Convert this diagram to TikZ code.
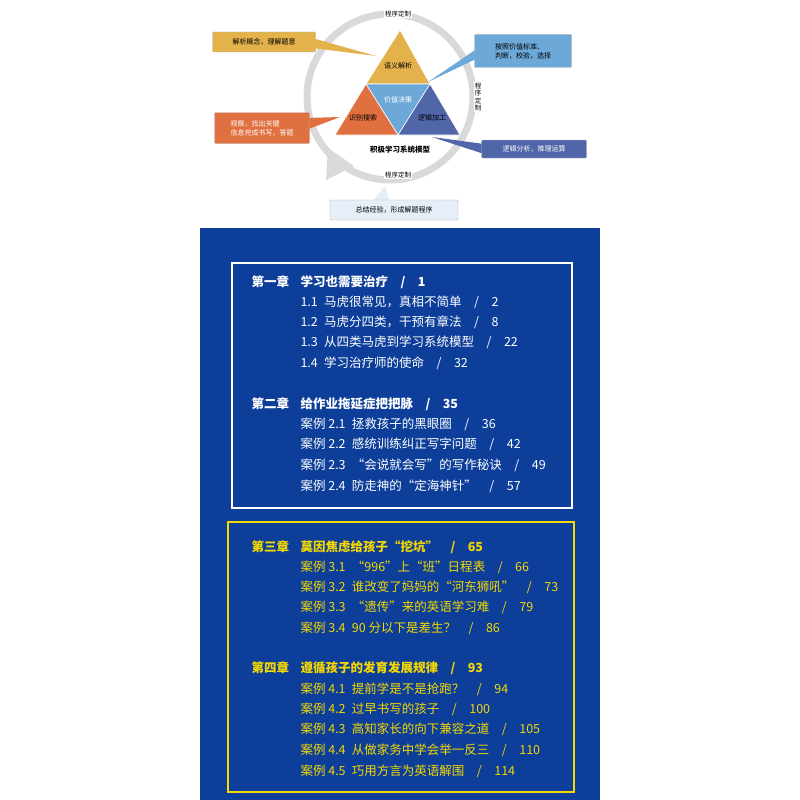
\documentclass[tikz,border=0pt]{standalone}
\usepackage{fontspec}
\setmainfont{Noto Sans CJK SC}
\usetikzlibrary{arrows.meta}
\definecolor{panel}{HTML}{0D3F9A}
\definecolor{gold}{HTML}{F5D800}
\definecolor{tyel}{HTML}{E3B24A}
\definecolor{tlblue}{HTML}{6DA9D8}
\definecolor{torange}{HTML}{E07040}
\definecolor{tdblue}{HTML}{5066A8}
\definecolor{tpale}{HTML}{E6EEF8}
\tikzset{
  callout/.style={draw=gray!60, rounded corners=1pt, font=\fontsize{7}{9}\selectfont, inner sep=3pt, align=left},
  tri/.style={draw=white, line width=0.6pt},
  tlab/.style={font=\fontsize{7}{8}\selectfont},
  ring/.style={font=\fontsize{6.5}{7.5}\selectfont, fill=white, inner sep=1pt, align=center},
  toc/.style={anchor=west, text=white, font=\fontsize{12.5}{15}\selectfont},
  tocb/.style={toc, font=\bfseries\fontsize{12.5}{15}\selectfont},
  tocy/.style={toc, text=gold},
  tocyb/.style={tocb, text=gold},
}
\begin{document}
\begin{tikzpicture}[x=1pt,y=-1pt]
\useasboundingbox (0,0) rectangle (800,800);
% circle
\draw[gray!30, line width=7pt] (390,97) circle (83);
\fill[gray!30] (328,148) -- (354,166) -- (326,180) -- cycle;
% triangles
\fill[tri, fill=tyel] (400,30) -- (366,84) -- (430,84) -- cycle;
\fill[tri, fill=tlblue] (366,84) -- (430,84) -- (398,135) -- cycle;
\fill[tri, fill=torange] (366,84) -- (335,135) -- (398,135) -- cycle;
\fill[tri, fill=tdblue] (430,84) -- (460,135) -- (398,135) -- cycle;
\node[tlab] (t1) at (398,66) {语义解析};
\node[tlab, text=white] (t2) at (398,100) {价值决策};
\node[tlab] (t3) at (363,118) {识别搜索};
\node[tlab] (t4) at (432,118) {逻辑加工};
\node[font=\bfseries\fontsize{7.5}{8}\selectfont] (model) at (400,150) {积极学习系统模型};
\node[ring] (c1) at (398,14) {程序定制};
\node[ring] (c2) at (398,175) {程序定制};
\node[ring] (c3) at (478,97) {程\\序\\定\\制};
% callouts
\coordinate (p1) at (376,56);
\coordinate (p2) at (428,82);
\coordinate (p3) at (340,117);
\coordinate (p4) at (432,137);
\coordinate (p5) at (385,186);
\fill[tyel] (312,38) -- (p1) -- (312,48) -- cycle;
\node[callout, fill=tyel, minimum width=103pt, minimum height=20pt] (b1) at (264,42) {解析概念，理解题意};
\fill[tlblue] (478,48) -- (p2) -- (478,58) -- cycle;
\node[callout, fill=tlblue, minimum width=97pt, minimum height=33pt] (b2) at (523,51) {按照价值标准、\\判断，校验，选择};
\fill[torange] (306,118) -- (p3) -- (306,130) -- cycle;
\node[callout, fill=torange, text=white, minimum width=95pt, minimum height=31pt] (b3) at (262,128) {观察，找出关键\\信息完成书写，答题};
\fill[tdblue] (484,144) -- (p4) -- (484,154) -- cycle;
\node[callout, fill=tdblue, text=white, minimum width=105pt, minimum height=18pt] (b4) at (534,149) {逻辑分析，推理运算};
\fill[tpale] (372,202) -- (p5) -- (390,202) -- cycle;
\node[callout, fill=tpale, minimum width=128pt, minimum height=20pt] (b5) at (394,210) {总结经验，形成解题程序};
% panel
\fill[panel] (200,228) rectangle (600,800);
\draw[white, line width=1.5pt] (232,263) rectangle (572,508);
\draw[gold, line width=1.5pt] (228,522) rectangle (574,792);
\node[tocb] (ch1) at (248,282) {第一章};
\node[tocb] (ch1t) at (297,282) {学习也需要治疗\quad /\quad 1};
\node[toc] (s11) at (297,302) {1.1\enspace 马虎很常见，真相不简单\quad /\quad 2};
\node[toc] (s12) at (297,322) {1.2\enspace 马虎分四类，干预有章法\quad /\quad 8};
\node[toc] (s13) at (297,342) {1.3\enspace 从四类马虎到学习系统模型\quad /\quad 22};
\node[toc] (s14) at (297,363) {1.4\enspace 学习治疗师的使命\quad /\quad 32};
\node[tocb] (ch2) at (248,404) {第二章};
\node[tocb] (ch2t) at (297,404) {给作业拖延症把把脉\quad /\quad 35};
\node[toc] (s21) at (297,424) {案例 2.1\enspace 拯救孩子的黑眼圈\quad /\quad 36};
\node[toc] (s22) at (297,444) {案例 2.2\enspace 感统训练纠正写字问题\quad /\quad 42};
\node[toc] (s23) at (297,465) {案例 2.3\enspace “会说就会写”的写作秘诀\quad /\quad 49};
\node[toc] (s24) at (297,486) {案例 2.4\enspace 防走神的“定海神针”\quad /\quad 57};
\node[tocyb] (ch3) at (248,547) {第三章};
\node[tocyb] (ch3t) at (297,547) {莫因焦虑给孩子“挖坑”\quad /\quad 65};
\node[tocy] (s31) at (297,567) {案例 3.1\enspace “996”上“班”日程表\quad /\quad 66};
\node[tocy] (s32) at (297,587) {案例 3.2\enspace 谁改变了妈妈的“河东狮吼”\quad /\quad 73};
\node[tocy] (s33) at (297,607) {案例 3.3\enspace “遗传”来的英语学习难\quad /\quad 79};
\node[tocy] (s34) at (297,628) {案例 3.4\enspace 90 分以下是差生？\quad /\quad 86};
\node[tocyb] (ch4) at (248,668) {第四章};
\node[tocyb] (ch4t) at (297,668) {遵循孩子的发育发展规律\quad /\quad 93};
\node[tocy] (s41) at (297,689) {案例 4.1\enspace 提前学是不是抢跑？\quad /\quad 94};
\node[tocy] (s42) at (297,709) {案例 4.2\enspace 过早书写的孩子\quad /\quad 100};
\node[tocy] (s43) at (297,729) {案例 4.3\enspace 高知家长的向下兼容之道\quad /\quad 105};
\node[tocy] (s44) at (297,750) {案例 4.4\enspace 从做家务中学会举一反三\quad /\quad 110};
\node[tocy] (s45) at (297,771) {案例 4.5\enspace 巧用方言为英语解围\quad /\quad 114};
\end{tikzpicture}
\end{document}
